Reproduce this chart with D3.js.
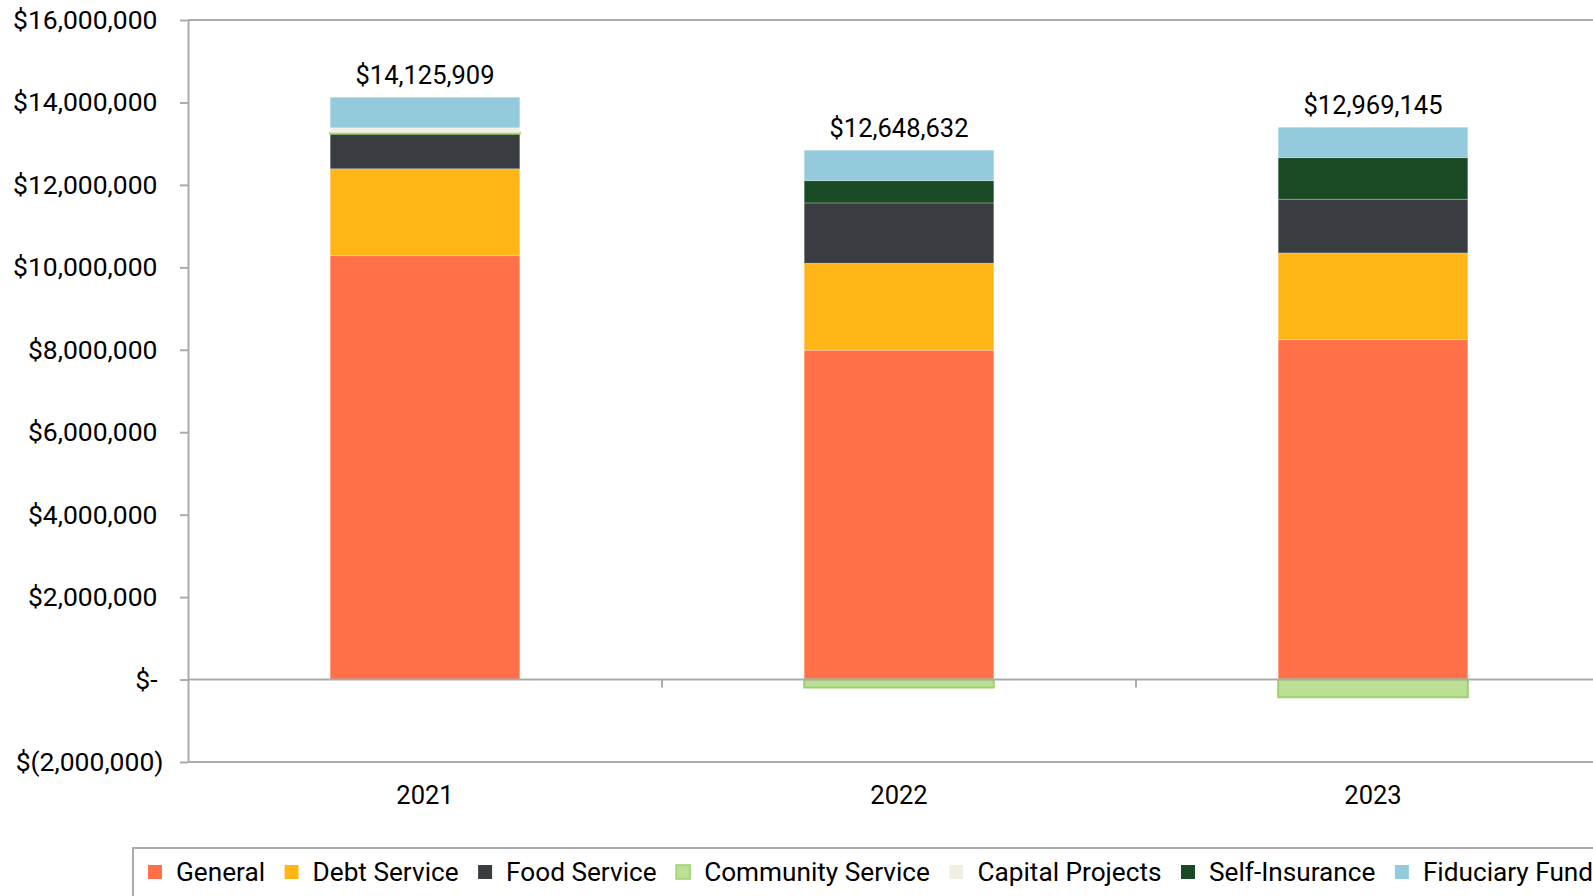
<!DOCTYPE html>
<html>
<head>
<meta charset="utf-8">
<script src="https://cdn.jsdelivr.net/npm/d3@7"></script>
<style>
  html, body { margin: 0; padding: 0; background: #fff; overflow: hidden; }
  svg { display: block; font-family: Roboto, "Noto Sans", sans-serif; }
</style>
</head>
<body>
<svg id="chart" width="1593" height="896"></svg>
<script>
// Fund balances by year, stacked by fund
const years = ["2021", "2022", "2023"];
const funds = ["General", "Debt Service", "Food Service", "Community Service",
               "Capital Projects", "Self-Insurance", "Fiduciary Funds"];

const general          = [10284512, 7989214, 8246105];
const debtService      = [2106380, 2110563, 2102874];
const foodService      = [850274, 1462847, 1302516];
const communityService = [24615, -192318, -428913];
const capitalProjects  = [118406, 0, 0];
const selfInsurance    = [0, 541209, 1009342];
const fiduciaryFunds   = [741722, 737117, 737221];

const yTicks = [-2000000, 0, 2000000, 4000000, 6000000, 8000000,
                10000000, 12000000, 14000000, 16000000];

const colors = ["#FF7048", "#FFB515", "#393D42", "#BBDF95",
                "#F1EEE4", "#1A4A24", "#93CBDC"];

const seriesValues = [general, debtService, foodService, communityService,
                      capitalProjects, selfInsurance, fiduciaryFunds];

const rows = years.map((yr, i) => {
  const r = { year: yr };
  funds.forEach((f, k) => { r[f] = seriesValues[k][i]; });
  return r;
});

(function draw() {
  const svg = d3.select("#chart");
  const plotLeft = 188, plotRight = 1610, plotTop = 20, plotBottom = 762;

  const x = d3.scaleBand().domain(years).range([plotLeft, plotRight]).paddingInner(0.6).paddingOuter(0.3);
  const y = d3.scaleLinear().domain([-2000000, 16000000]).range([plotBottom, plotTop]);

  const stack = d3.stack().keys(funds).offset(d3.stackOffsetDiverging);
  const layers = stack(rows);

  const axisColor = "#ABABAB";
  const labelSize = 25.5;   // category and total labels
  const axisSize = 26.5;    // value axis
  const legendSize = 26.2;

  // plot area frame (top and bottom edges)
  svg.append("line").attr("x1", plotLeft).attr("x2", plotRight).attr("y1", plotTop).attr("y2", plotTop)
    .attr("stroke", axisColor).attr("stroke-width", 2);
  svg.append("line").attr("x1", plotLeft).attr("x2", plotRight).attr("y1", plotBottom).attr("y2", plotBottom)
    .attr("stroke", axisColor).attr("stroke-width", 2);

  // stacked bars
  layers.forEach((layer, k) => {
    const isCommunity = funds[k] === "Community Service";
    svg.append("g").selectAll("rect").data(layer).join("rect")
      .attr("x", d => x(d.data.year))
      .attr("width", x.bandwidth())
      .attr("y", d => y(Math.max(d[0], d[1])))
      .attr("height", d => Math.abs(y(d[0]) - y(d[1])))
      .attr("fill", colors[k])
      .attr("stroke", isCommunity ? "#9DD26B" : "#ffffff")
      .attr("stroke-opacity", isCommunity ? 1 : 0.25)
      .attr("stroke-width", isCommunity ? 2 : 1)
      .attr("display", d => (d[1] - d[0]) === 0 ? "none" : null);
  });

  // y axis
  const fmt = d3.format(",");
  const yAxis = d3.axisLeft(y).tickValues(yTicks).tickSize(8).tickSizeOuter(0)
    .tickFormat(d => d === 0 ? "$-" : d < 0 ? "$(" + fmt(-d) + ")" : "$" + fmt(d));
  const gy = svg.append("g").attr("transform", `translate(${plotLeft},0)`).call(yAxis);
  gy.select(".domain").attr("stroke", axisColor).attr("stroke-width", 2);
  gy.selectAll(".tick line").attr("stroke", axisColor).attr("stroke-width", 2);
  gy.selectAll(".tick text")
    .attr("font-size", axisSize).attr("font-family", "Roboto")
    .attr("fill", "#000")
    .attr("x", d => d < 0 ? -24.5 : -30.5);

  // category axis along zero
  svg.append("line").attr("x1", plotLeft).attr("x2", plotRight).attr("y1", y(0)).attr("y2", y(0))
    .attr("stroke", axisColor).attr("stroke-width", 2);
  const step = x.step();
  d3.range(1, years.length).forEach(i => {
    const tx = plotLeft + step * i;
    svg.append("line").attr("x1", tx).attr("x2", tx).attr("y1", y(0)).attr("y2", y(0) + 8)
      .attr("stroke", axisColor).attr("stroke-width", 2);
  });
  svg.append("g").selectAll("text").data(years).join("text")
    .attr("x", d => x(d) + x.bandwidth() / 2)
    .attr("y", 804)
    .attr("text-anchor", "middle")
    .attr("font-size", labelSize)
    .text(d => d);

  // total labels above each bar
  const totals = years.map((yr, i) => d3.sum(seriesValues, s => s[i]));
  const posTops = years.map((yr, i) => d3.sum(seriesValues, s => Math.max(0, s[i])));
  svg.append("g").selectAll("text").data(years).join("text")
    .attr("x", d => x(d) + x.bandwidth() / 2)
    .attr("y", (d, i) => y(posTops[i]) - 13)
    .attr("text-anchor", "middle")
    .attr("font-size", labelSize)
    .text((d, i) => "$" + fmt(totals[i]));

  // legend (runs past the right edge of the frame)
  const lg = svg.append("g");
  lg.append("rect").attr("x", 133).attr("y", 848).attr("width", 1600).attr("height", 80)
    .attr("fill", "#fff").attr("stroke", axisColor).attr("stroke-width", 2);
  let lx = 148;
  funds.forEach((f, k) => {
    const isCommunity = f === "Community Service";
    lg.append("rect").attr("x", lx).attr("y", 865).attr("width", 14).attr("height", 14)
      .attr("fill", colors[k])
      .attr("stroke", isCommunity ? "#9DD26B" : "none").attr("stroke-width", 1.5);
    const t = lg.append("text").attr("x", lx + 28).attr("y", 880.5)
      .attr("font-size", legendSize).text(f);
    lx += 28 + t.node().getComputedTextLength() + 19.5;
  });
})();
</script>
</body>
</html>
